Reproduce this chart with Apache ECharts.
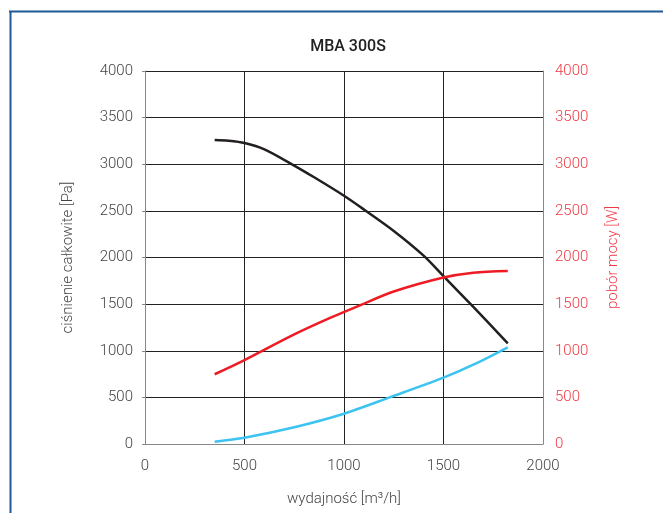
<!DOCTYPE html>
<html><head><meta charset="utf-8">
<script src="https://cdn.jsdelivr.net/npm/echarts@6/dist/echarts.min.js"></script>
<style>html,body{margin:0;padding:0;background:#fff}#c{width:663px;height:513px}</style>
</head><body><div id="c"></div>
<script>
const xTicks = [0, 500, 1000, 1500, 2000];
const yTicks = [0, 500, 1000, 1500, 2000, 2500, 3000, 3500, 4000];
const pressure = [[350,3260],[420,3252],[500,3228],[600,3160],[730,3010],[850,2860],[1000,2662],[1100,2515],[1250,2285],[1400,2020],[1500,1800],[1650,1470],[1823,1080]];
const power = [[350,748],[500,900],[750,1175],[930,1352],[1080,1487],[1250,1635],[1500,1785],[1650,1837],[1823,1855]];
const airflowCurve = [[350,25],[500,68],[750,180],[1000,325],[1230,500],[1500,711],[1650,850],[1823,1037]];

const font = 'Roboto';
const fmt = v => String(v);
const chart = echarts.init(document.getElementById('c'));
chart.setOption({
  animation:false,
  title:{text:'MBA 300S',left:343,top:34,textAlign:'center',textStyle:{fontFamily:font,fontSize:16,fontWeight:500,color:'#222'}},
  graphic:[
    {type:'line',shape:{x1:9,y1:11.5,x2:663,y2:11.5},style:{stroke:'#1f5a96',lineWidth:2}},
    {type:'line',shape:{x1:10.5,y1:11,x2:10.5,y2:513},style:{stroke:'#1f5a96',lineWidth:2}}
  ],
  grid:{left:145,right:120,top:71,bottom:69,outerBoundsMode:'none',containLabel:false},
  xAxis:{type:'value',min:0,max:2000,interval:500,
    name:'wydajność [m³/h]',nameLocation:'middle',nameGap:48,
    nameTextStyle:{fontFamily:font,fontSize:15,fontWeight:300,color:'#444'},
    axisLine:{show:true,lineStyle:{color:'#888',width:1}},axisTick:{show:false},
    axisLabel:{margin:15,fontFamily:font,fontSize:15,fontWeight:300,color:'#444',formatter:fmt},
    splitLine:{show:true,lineStyle:{color:'#222',width:1}}},
  yAxis:[
    {type:'value',min:0,max:4000,interval:500,position:'left',
     name:'ciśnienie całkowite [Pa]',nameLocation:'middle',nameGap:69,
     nameTextStyle:{fontFamily:font,fontSize:15,fontWeight:300,color:'#444'},
     axisLine:{show:true,lineStyle:{color:'#888'}},axisTick:{show:true,length:3,lineStyle:{color:'#888'}},
     axisLabel:{margin:12,fontFamily:font,fontSize:15,fontWeight:300,color:'#444',formatter:fmt},
     splitLine:{show:true,lineStyle:{color:'#222',width:1}}},
    {type:'value',min:0,max:4000,interval:500,position:'right',
     name:'pobór mocy [W]',nameLocation:'middle',nameGap:63,nameRotate:90,
     nameTextStyle:{fontFamily:font,fontSize:15,fontWeight:300,color:'#ee3a45'},
     axisLine:{show:true,lineStyle:{color:'#888'}},axisTick:{show:false},
     axisLabel:{margin:12,fontFamily:font,fontSize:15,fontWeight:300,color:'#ee3a45',formatter:fmt},
     splitLine:{show:false}}
  ],
  series:[
    {type:'line',data:pressure,smooth:0.3,showSymbol:false,yAxisIndex:0,lineStyle:{color:'#231f20',width:2.5}},
    {type:'line',data:power,smooth:0.3,showSymbol:false,yAxisIndex:1,lineStyle:{color:'#ed1c24',width:2.5}},
    {type:'line',data:airflowCurve,smooth:0.3,showSymbol:false,yAxisIndex:0,lineStyle:{color:'#3cc3f2',width:2.5}}
  ]
});
</script></body></html>
